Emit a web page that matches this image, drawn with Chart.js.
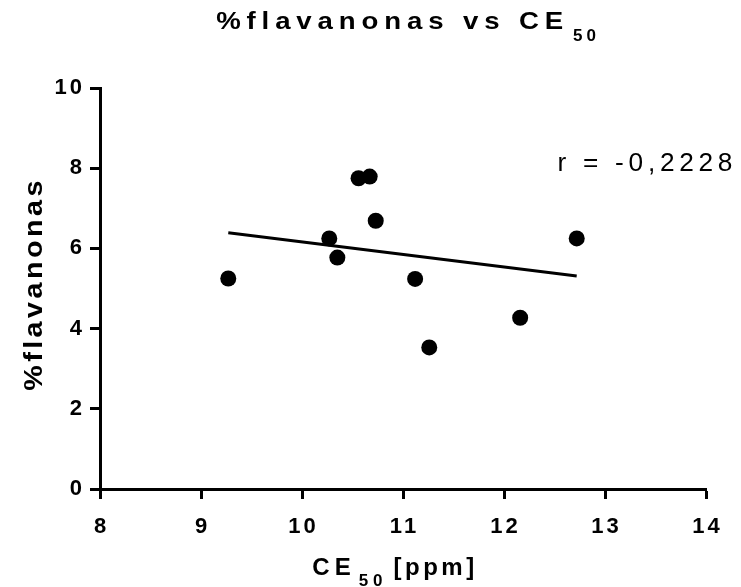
<!DOCTYPE html>
<html>
<head>
<meta charset="utf-8">
<script src="https://cdn.jsdelivr.net/npm/chart.js@4.4.1/dist/chart.umd.min.js"></script>
<style>
  html, body { margin: 0; padding: 0; background: #fff; }
  #wrap { width: 741px; height: 587px; }
</style>
</head>
<body>
<div id="wrap"><canvas id="scatter" width="741" height="587"></canvas></div>
<script>
// =======================
// Data
// =======================
const ce50 = [9.27, 10.27, 10.35, 10.56, 10.67, 10.73, 11.12, 11.26, 12.16, 12.72];
const flavanonas = [5.25, 6.25, 5.77, 7.75, 7.79, 6.69, 5.24, 3.53, 4.27, 6.25];
const xTicks = [8, 9, 10, 11, 12, 13, 14];
const yTicks = [0, 2, 4, 6, 8, 10];
const rLabel = "r = -0,2228";

const FONT = "'Liberation Sans', Arial, sans-serif";

// =======================
// Least squares fit
// =======================
function linearFit(xs, ys) {
  const n = xs.length;
  const mx = xs.reduce((a, b) => a + b, 0) / n;
  const my = ys.reduce((a, b) => a + b, 0) / n;
  let sxy = 0, sxx = 0;
  xs.forEach((x, i) => { sxy += (x - mx) * (ys[i] - my); sxx += (x - mx) * (x - mx); });
  const slope = sxy / sxx;
  return { slope, intercept: my - slope * mx };
}

const fit = linearFit(ce50, flavanonas);
const xMin = Math.min(...ce50), xMax = Math.max(...ce50);
const fitLine = [
  { x: xMin, y: fit.intercept + fit.slope * xMin },
  { x: xMax, y: fit.intercept + fit.slope * xMax }
];

// =======================
// Spaced text helpers
// =======================
function textWidth(ctx, t) {
  ctx.save();
  ctx.font = t.font;
  ctx.letterSpacing = (t.spacing || 0) + "px";
  const w = ctx.measureText(t.text).width * (t.sx || 1);
  ctx.restore();
  return w;
}

function drawText(ctx, t, x, y, rot) {
  ctx.save();
  ctx.font = t.font;
  ctx.letterSpacing = (t.spacing || 0) + "px";
  ctx.fillStyle = "#000";
  ctx.textAlign = "left";
  ctx.textBaseline = "alphabetic";
  ctx.translate(x, y);
  if (rot) ctx.rotate(rot);
  ctx.scale(t.sx || 1, 1);
  ctx.fillText(t.text, 0, 0);
  ctx.restore();
}

// draws a run of pieces (with optional subscript drop) centered on cx
function drawRun(ctx, parts, cx, baseline) {
  const total = parts.reduce((s, p) => s + textWidth(ctx, p) + (p.gap || 0), 0);
  let x = cx - total / 2;
  parts.forEach(p => {
    drawText(ctx, p, x, baseline + (p.dy || 0));
    x += textWidth(ctx, p) + (p.gap || 0);
  });
}

const labelsPlugin = {
  id: "labels",
  beforeDraw(chart) {
    chart.ctx.letterSpacing = "3px";
  },
  afterDraw(chart) {
    const ctx = chart.ctx;
    const xs = chart.scales.x, ys = chart.scales.y;

    // title
    drawRun(ctx, [
      { text: "%flavanonas vs CE", font: "bold 24px " + FONT, spacing: 5.1, sx: 1.15, gap: 4 },
      { text: "50", font: "bold 17px " + FONT, spacing: 4, dy: 12 }
    ], 408, 29);

    // x axis title
    drawRun(ctx, [
      { text: "CE", font: "bold 24px " + FONT, spacing: 5, gap: 3 },
      { text: "50", font: "bold 17px " + FONT, spacing: 5, dy: 11, gap: 6 },
      { text: "[ppm]", font: "bold 24px " + FONT, spacing: 3.5 }
    ], 395, 575);

    // y axis title
    const yt = { text: "%flavanonas", font: "bold 25px " + FONT, spacing: 3, sx: 1.15 };
    const yw = textWidth(ctx, yt);
    drawText(ctx, yt, 42, 284 + yw / 2, -Math.PI / 2);

    // correlation coefficient
    drawText(ctx, { text: rLabel, font: "25px " + FONT, spacing: 4.5, sx: 1.05 },
      xs.getPixelForValue(12.53), ys.getPixelForValue(7.92));
  }
};

// =======================
// Chart
// =======================
const tickFont = { family: FONT, size: 22, weight: "bold" };

new Chart(document.getElementById("scatter"), {
  type: "scatter",
  data: {
    datasets: [
      {
        data: ce50.map((x, i) => ({ x, y: flavanonas[i] })),
        backgroundColor: "#000",
        borderWidth: 0,
        pointRadius: 8,
        pointHoverRadius: 8,
        order: 0
      },
      {
        type: "line",
        data: fitLine,
        borderColor: "#000",
        borderWidth: 3,
        pointRadius: 0,
        fill: false,
        order: 1
      }
    ]
  },
  options: {
    responsive: false,
    animation: false,
    devicePixelRatio: 1,
    layout: { padding: { top: 88, right: 35, left: 0, bottom: 0 } },
    plugins: { legend: { display: false }, tooltip: { enabled: false }, title: { display: false } },
    scales: {
      x: {
        type: "linear",
        min: xTicks[0],
        max: xTicks[xTicks.length - 1],
        afterBuildTicks: s => { s.ticks = xTicks.map(v => ({ value: v })); },
        afterFit: s => { s.height = 98; },
        border: { color: "#000", width: 3 },
        grid: { drawOnChartArea: false, drawTicks: true, tickLength: 10, tickWidth: 3, tickColor: "#000" },
        ticks: { color: "#000", font: tickFont, padding: 15, labelOffset: 1.5, maxRotation: 0 }
      },
      y: {
        type: "linear",
        min: yTicks[0],
        max: yTicks[yTicks.length - 1],
        afterBuildTicks: s => { s.ticks = yTicks.map(v => ({ value: v })); },
        afterFit: s => { s.width = 100; },
        border: { color: "#000", width: 3 },
        grid: { drawOnChartArea: false, drawTicks: true, tickLength: 10, tickWidth: 3, tickColor: "#000" },
        ticks: { color: "#000", font: tickFont, padding: 5 }
      }
    }
  },
  plugins: [labelsPlugin]
});
</script>
</body>
</html>
